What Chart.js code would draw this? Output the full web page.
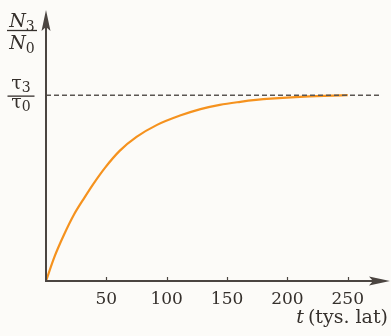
<!DOCTYPE html>
<html>
<head>
<meta charset="utf-8">
<script src="https://cdn.jsdelivr.net/npm/chart.js@4.4.1/dist/chart.umd.min.js"></script>
<style>
  html, body { margin: 0; padding: 0; background: #fcfbf8; }
  #wrap { width: 391px; height: 336px; }
</style>
</head>
<body>
<div id="wrap"><canvas id="chartN3"></canvas></div>
<script>
// Krzywa N3/N0 w funkcji czasu (tys. lat)
const czasTys = [0, 7, 15, 23, 32, 39, 49, 61, 75, 92, 111, 128, 144, 161, 174, 186, 214, 250];
const stosunekN = [0, 0.13, 0.25, 0.355, 0.45, 0.52, 0.61, 0.70, 0.775, 0.84, 0.89, 0.925, 0.948, 0.964, 0.974, 0.981, 0.992, 1.0];
// poziom nasycenia tau3/tau0 (linia przerywana)
const poziomCzas = [0, 276];
const poziomWartosc = [1, 1];
const tickiX = [50, 100, 150, 200, 250];

const KOLORY = {
    os: '#4b4541',
    tekst: '#35302c',
    krzywa: '#f5921e',
    przerywana: '#5a5652'
};

const SERIF = "'DejaVu Serif', serif";

// rysuje ulamek typu  A_sub / B_sub
function rysujUlamek(ctx, cx, yLinii, licz, mian, opts) {
    function czesc(txt, sub, baseline) {
        ctx.font = opts.font;
        const w1 = ctx.measureText(txt).width;
        ctx.font = opts.subFont;
        const w2 = ctx.measureText(sub).width;
        const x0 = cx - (w1 + w2) / 2;
        ctx.font = opts.font;
        ctx.fillText(txt, x0, baseline);
        ctx.font = opts.subFont;
        ctx.fillText(sub, x0 + w1 + opts.subGap, baseline + opts.subDrop);
    }
    ctx.fillStyle = KOLORY.tekst;
    ctx.textBaseline = 'alphabetic';
    ctx.textAlign = 'left';
    czesc(licz[0], licz[1], yLinii - opts.gornyOdstep);
    czesc(mian[0], mian[1], yLinii + opts.dolnyOdstep);
    ctx.strokeStyle = KOLORY.tekst;
    ctx.lineWidth = 1.3;
    ctx.beginPath();
    ctx.moveTo(cx - opts.szer / 2, yLinii);
    ctx.lineTo(cx + opts.szer / 2, yLinii);
    ctx.stroke();
}

const osiePlugin = {
    id: 'osie',
    afterDatasetsDraw(chart) {
        const ctx = chart.ctx;
        const xs = chart.scales.x, ys = chart.scales.y;
        const x0 = xs.getPixelForValue(0);
        const y0 = ys.getPixelForValue(0);
        const area = chart.chartArea;
        ctx.save();
        ctx.strokeStyle = KOLORY.os;
        ctx.fillStyle = KOLORY.os;
        ctx.lineWidth = 2;
        // os Y
        ctx.beginPath();
        ctx.moveTo(x0, y0 + 1);
        ctx.lineTo(x0, area.top + 14);
        ctx.stroke();
        ctx.beginPath();
        ctx.moveTo(x0, area.top);
        ctx.lineTo(x0 - 4.5, area.top + 21);
        ctx.lineTo(x0, area.top + 17);
        ctx.lineTo(x0 + 4.5, area.top + 21);
        ctx.closePath();
        ctx.fill();
        // os X
        ctx.beginPath();
        ctx.moveTo(x0 - 1, y0);
        ctx.lineTo(area.right - 14, y0);
        ctx.stroke();
        ctx.beginPath();
        ctx.moveTo(area.right, y0);
        ctx.lineTo(area.right - 21, y0 - 4.5);
        ctx.lineTo(area.right - 17, y0);
        ctx.lineTo(area.right - 21, y0 + 4.5);
        ctx.closePath();
        ctx.fill();
        // kreski podzialki
        ctx.lineWidth = 1.2;
        tickiX.forEach(v => {
            const px = Math.round(xs.getPixelForValue(v)) + 0.5;
            ctx.beginPath();
            ctx.moveTo(px, y0);
            ctx.lineTo(px, y0 - 4);
            ctx.stroke();
        });
        // opisy osi Y (ulamki)
        rysujUlamek(ctx, 22, 30.5, ['N', '3'], ['N', '0'], {
            font: 'italic 19px ' + SERIF, subFont: '14px ' + SERIF,
            subGap: 0, subDrop: 4, gornyOdstep: 4, dolnyOdstep: 18, szer: 30
        });
        const yPoz = ys.getPixelForValue(1);
        rysujUlamek(ctx, 21, yPoz + 1, ['τ', '3'], ['τ', '0'], {
            font: '19px ' + SERIF, subFont: '14px ' + SERIF,
            subGap: 0, subDrop: 3, gornyOdstep: 7, dolnyOdstep: 12, szer: 27
        });
        // opis osi X
        ctx.fillStyle = KOLORY.tekst;
        ctx.textBaseline = 'alphabetic';
        ctx.textAlign = 'right';
        ctx.font = '19px ' + SERIF;
        const reszta = '(tys. lat)';
        ctx.fillText(reszta, 388, 323);
        const wR = ctx.measureText(reszta).width;
        ctx.font = 'italic 19px ' + SERIF;
        ctx.fillText('t', 388 - wR - 4, 323);
        ctx.restore();
    }
};

new Chart(document.getElementById('chartN3'), {
    type: 'line',
    data: {
        datasets: [
            {
                data: poziomCzas.map((t, i) => ({ x: t, y: poziomWartosc[i] })),
                borderColor: KOLORY.przerywana,
                borderWidth: 1.5,
                borderDash: [5, 3],
                pointRadius: 0,
                tension: 0
            },
            {
                data: czasTys.map((t, i) => ({ x: t, y: stosunekN[i] })),
                borderColor: KOLORY.krzywa,
                borderWidth: 2.2,
                pointRadius: 0,
                cubicInterpolationMode: 'monotone'
            }
        ]
    },
    options: {
        responsive: true,
        maintainAspectRatio: false,
        animation: false,
        layout: { padding: { left: 46, top: 10, right: 1, bottom: 0 } },
        plugins: {
            legend: { display: false },
            tooltip: { enabled: false }
        },
        scales: {
            x: {
                type: 'linear',
                min: 0,
                max: 285,
                afterFit(scale) { scale.height = 55; },
                afterBuildTicks(scale) {
                    scale.ticks = tickiX.map(v => ({ value: v }));
                },
                grid: { display: false, drawTicks: false },
                border: { display: false },
                ticks: {
                    padding: 8,
                    maxRotation: 0,
                    autoSkip: false,
                    color: KOLORY.tekst,
                    font: { family: SERIF, size: 17 }
                }
            },
            y: {
                type: 'linear',
                min: 0,
                max: 1.458,
                display: false
            }
        }
    },
    plugins: [osiePlugin]
});
</script>
</body>
</html>
